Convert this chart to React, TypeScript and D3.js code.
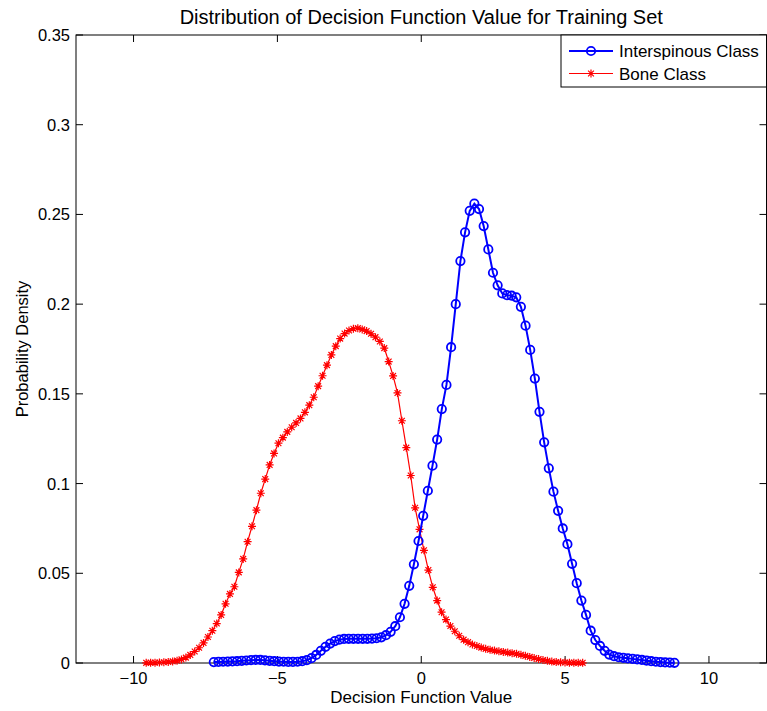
import React from "react";
import * as d3 from "d3";

// Kernel density estimates evaluated on a uniform grid of 100 points per class
const interspinousRange: [number, number] = [-7.21, 8.8];
const boneRange: [number, number] = [-9.56, 5.61];

const interspinousDensity = [
  0.0005, 0.0006, 0.0007, 0.0008, 0.0009, 0.0010, 0.0012, 0.0014, 0.0016, 0.0017,
  0.0017, 0.0015, 0.0012, 0.0010, 0.0008, 0.0007, 0.0006, 0.0006, 0.0007, 0.0010,
  0.0016, 0.0027, 0.0045, 0.0068, 0.0090, 0.0108, 0.0122, 0.0130, 0.0134, 0.0135,
  0.0135, 0.0135, 0.0135, 0.0135, 0.0136, 0.0138, 0.0143, 0.0155, 0.0174, 0.0205,
  0.0255, 0.0330, 0.0430, 0.0550, 0.0680, 0.0820, 0.0960, 0.1100, 0.1245, 0.1415,
  0.1550, 0.1760, 0.2000, 0.2240, 0.2400, 0.2520, 0.2560, 0.2530, 0.2435, 0.2305,
  0.2175, 0.2105, 0.2060, 0.2050, 0.2047, 0.2038, 0.1985, 0.1880, 0.1745, 0.1585,
  0.1400, 0.1230, 0.1085, 0.0955, 0.0848, 0.0750, 0.0662, 0.0553, 0.0445, 0.0348,
  0.0268, 0.0180, 0.0128, 0.0095, 0.0068, 0.0047, 0.0038, 0.0032, 0.0029, 0.0026,
  0.0023, 0.0020, 0.0017, 0.0013, 0.0010, 0.0007, 0.0005, 0.0003, 0.0002, 0.0001,
];

const boneDensity = [
  0.0001, 0.0002, 0.0002, 0.0003, 0.0004, 0.0006, 0.0009, 0.0013, 0.0020, 0.0030,
  0.0045, 0.0064, 0.0085, 0.0112, 0.0145, 0.0180, 0.0220, 0.0268, 0.0330, 0.0385,
  0.0425, 0.0505, 0.0580, 0.0676, 0.0762, 0.0852, 0.0946, 0.1025, 0.1104, 0.1168,
  0.1225, 0.1256, 0.1288, 0.1314, 0.1338, 0.1363, 0.1397, 0.1437, 0.1481, 0.1543,
  0.1601, 0.1660, 0.1717, 0.1766, 0.1808, 0.1836, 0.1853, 0.1863, 0.1866, 0.1859,
  0.1850, 0.1835, 0.1816, 0.1792, 0.1755, 0.1680, 0.1600, 0.1505, 0.1350, 0.1200,
  0.1045, 0.0865, 0.0745, 0.0628, 0.0518, 0.0422, 0.0348, 0.0283, 0.0242, 0.0206,
  0.0177, 0.0152, 0.0130, 0.0116, 0.0103, 0.0095, 0.0086, 0.0079, 0.0074, 0.0069,
  0.0065, 0.0062, 0.0058, 0.0055, 0.0051, 0.0046, 0.0040, 0.0034, 0.0028, 0.0022,
  0.0017, 0.0012, 0.0008, 0.0005, 0.0004, 0.0003, 0.0002, 0.0002, 0.0001, 0.0001,
];

const xTicks = [-10, -5, 0, 5, 10];
const yTicks = [0, 0.05, 0.1, 0.15, 0.2, 0.25, 0.3, 0.35];
const seriesNames = ["Interspinous Class", "Bone Class"];

const W = 767;
const H = 711;
const M = { left: 76, right: 766.5, top: 35, bottom: 663 };
const FONT = "'Liberation Sans', Arial, Helvetica, sans-serif";

type Pt = [number, number];

function gridPoints(range: [number, number], ys: number[]): Pt[] {
  const step = (range[1] - range[0]) / (ys.length - 1);
  return ys.map((y, i) => [range[0] + i * step, y]);
}

export default function App() {
  const x = d3.scaleLinear().domain([-12, 12]).range([M.left, M.right]);
  const y = d3.scaleLinear().domain([0, 0.35]).range([M.bottom, M.top]);
  const line = d3
    .line<Pt>()
    .x((d) => x(d[0]))
    .y((d) => y(d[1]));

  const blue = gridPoints(interspinousRange, interspinousDensity);
  const red = gridPoints(boneRange, boneDensity);

  const tickLen = 7;
  const star = (cx: number, cy: number, k: string | number) => {
    const a = 4;
    const b = 2.9;
    return (
      <path
        key={k}
        d={`M${cx - a},${cy}L${cx + a},${cy}M${cx},${cy - a}L${cx},${cy + a}M${cx - b},${cy - b}L${cx + b},${cy + b}M${cx - b},${cy + b}L${cx + b},${cy - b}`}
        stroke="#ff0000"
        strokeWidth={1.2}
        fill="none"
      />
    );
  };

  return (
    <svg
      width={W}
      height={H}
      style={{ position: "absolute", left: 0, top: 0, background: "#fff" }}
      fontFamily={FONT}
    >
      <rect x={0} y={0} width={W} height={H} fill="#fff" />

      {/* axes box and ticks */}
      <rect
        x={M.left}
        y={M.top}
        width={M.right - M.left}
        height={M.bottom - M.top}
        fill="none"
        stroke="#000"
        strokeWidth={1}
      />
      {xTicks.map((t) => (
        <g key={"xt" + t}>
          <line x1={x(t)} x2={x(t)} y1={M.bottom} y2={M.bottom - tickLen} stroke="#000" />
          <line x1={x(t)} x2={x(t)} y1={M.top} y2={M.top + tickLen} stroke="#000" />
          <text x={x(t)} y={683.5} textAnchor="middle" fontSize={16.5}>
            {t < 0 ? "\u2212" + Math.abs(t) : String(t)}
          </text>
        </g>
      ))}
      {yTicks.map((t) => (
        <g key={"yt" + t}>
          <line x1={M.left} x2={M.left + tickLen} y1={y(t)} y2={y(t)} stroke="#000" />
          <line x1={M.right} x2={M.right - tickLen} y1={y(t)} y2={y(t)} stroke="#000" />
          <text x={70} y={y(t) + 6} textAnchor="end" fontSize={16.5}>
            {String(t)}
          </text>
        </g>
      ))}

      {/* curves */}
      <path d={line(red) || ""} fill="none" stroke="#ff0000" strokeWidth={1.2} />
      {red.map((d, i) => star(x(d[0]), y(d[1]), "r" + i))}

      <path d={line(blue) || ""} fill="none" stroke="#0000ff" strokeWidth={2} />
      {blue.map((d, i) => (
        <circle
          key={"b" + i}
          cx={x(d[0])}
          cy={y(d[1])}
          r={4.2}
          fill="none"
          stroke="#0000ff"
          strokeWidth={1.8}
        />
      ))}

      {/* titles */}
      <text x={(M.left + M.right) / 2} y={24} textAnchor="middle" fontSize={20}>
        Distribution of Decision Function Value for Training Set
      </text>
      <text x={(M.left + M.right) / 2} y={703} textAnchor="middle" fontSize={17}>
        Decision Function Value
      </text>
      <text
        transform={`translate(28,${(M.top + M.bottom) / 2}) rotate(-90)`}
        textAnchor="middle"
        fontSize={16.5}
      >
        Probability Density
      </text>

      {/* legend */}
      <g>
        <rect x={561} y={M.top} width={M.right - 561} height={52} fill="#fff" stroke="#000" strokeWidth={1} />
        <line x1={569} x2={613} y1={51} y2={51} stroke="#0000ff" strokeWidth={2} />
        <circle cx={591} cy={51} r={4.2} fill="none" stroke="#0000ff" strokeWidth={1.8} />
        <text x={619} y={57} fontSize={17}>
          {seriesNames[0]}
        </text>
        <line x1={569} x2={613} y1={73.5} y2={73.5} stroke="#ff0000" strokeWidth={1.2} />
        {star(591, 73.5, "legstar")}
        <text x={619} y={79.5} fontSize={17}>
          {seriesNames[1]}
        </text>
      </g>
    </svg>
  );
}
